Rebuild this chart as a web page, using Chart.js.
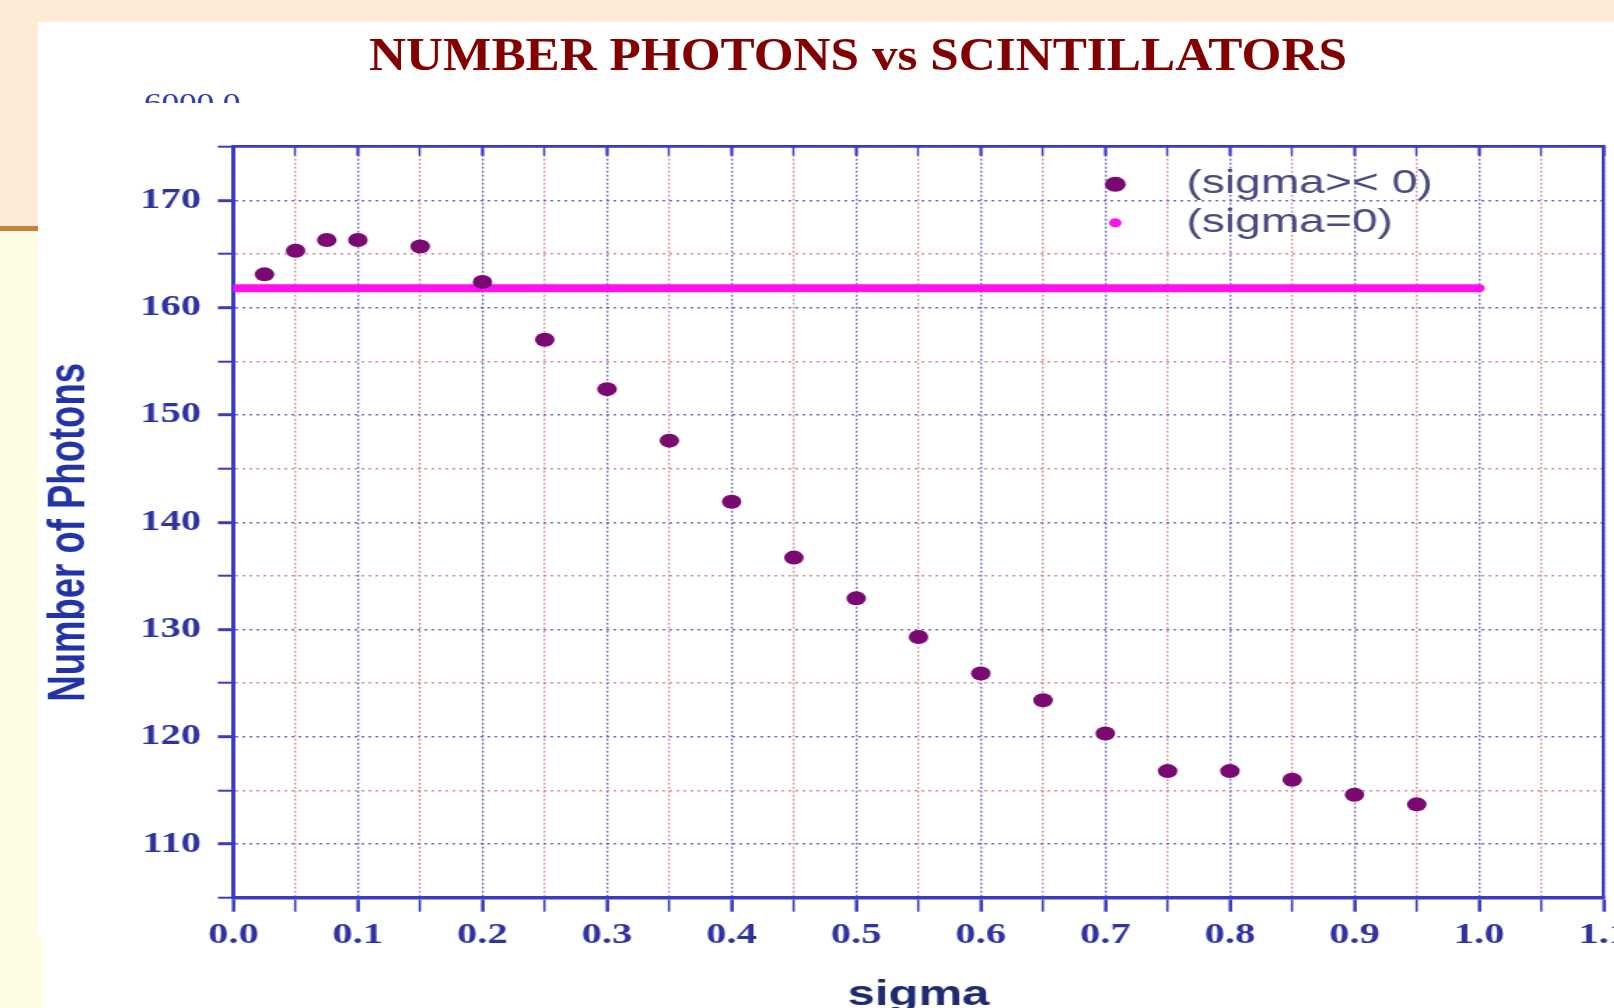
<!DOCTYPE html>
<html>
<head>
<meta charset="utf-8">
<script src="https://cdn.jsdelivr.net/npm/chart.js@4/dist/chart.umd.min.js"></script>
<style>
html, body { margin: 0; padding: 0; width: 1614px; height: 1008px; overflow: hidden; background: #fdebd8; }
#side { position: absolute; left: 0; top: 227px; width: 38px; height: 781px; background: #fffce6; }
#rule { position: absolute; left: 0; top: 226px; width: 38px; height: 5px; background: #c4843c; }
#foot { position: absolute; left: 0; top: 937px; width: 42px; height: 71px; background: #fffce6; }
#panel { position: absolute; left: 38px; top: 22px; right: 0; bottom: 0; background: #fff; }
#title { position: absolute; left: 358px; width: 1000px; top: 30px; text-align: center; white-space: nowrap;
         font: bold 47px/48px "Liberation Serif", "Times New Roman", serif; color: #820000;
         transform: scaleX(1.09); transform-origin: 50% 0; }
#ghost { position: absolute; left: 144px; top: 90px; height: 13px; overflow: hidden; white-space: nowrap;
         font: 25px/25px "Liberation Serif", serif; color: #2c3cb4; transform: scaleX(1.4); transform-origin: 0 0; }
#wrap { position: absolute; left: 38px; top: 22px; width: 1150px; height: 1010px;
        transform: scaleX(1.4); transform-origin: 0 0; }
</style>
</head>
<body>
<div id="panel"></div>
<div id="side"></div>
<div id="rule"></div>
<div id="foot"></div>
<div id="title">NUMBER PHOTONS vs SCINTILLATORS</div>
<div id="ghost">6000.0</div>
<div id="wrap"><canvas id="chart" width="1150" height="1010"></canvas></div>
<script>
"use strict";

// values
const sigmaVals = [0.025, 0.05, 0.075, 0.1, 0.15, 0.2, 0.25, 0.3, 0.35, 0.4, 0.45,
                   0.5, 0.55, 0.6, 0.65, 0.7, 0.75, 0.8, 0.85, 0.9, 0.95];
const photons = [163.1, 165.3, 166.3, 166.3, 165.7, 162.4, 157.0, 152.4, 147.6, 141.9, 136.7,
                 132.9, 129.3, 125.9, 123.4, 120.3, 116.8, 116.8, 116.0, 114.6, 113.7];
const flatSigma = [0.0, 1.0];
const flatPhotons = [161.8, 161.8];
const seriesLabels = ["(sigma>< 0)", "(sigma=0)"];
const xTitle = "sigma";
const yTitle = "Number of Photons  ";

const axisColor = "#3a3ac2";
const majorGrid = "rgba(80, 80, 175, 0.8)";
const minorGrid = "rgba(205, 120, 120, 0.8)";
const tickText = "#2f33a0";

const isMajorX = v => Math.round(v * 100) % 10 === 0;
const isMajorY = v => Math.round(v) % 10 === 0;

// legend drawn inside the plot, placed in data units
const legendDotX = 0.708;
const legendTextX = 0.765;
const legendRowY = [171.5, 167.9];
const legendDotR = [7.5, 4.5];

const insideLegend = {
    id: "insideLegend",
    afterDatasetsDraw(chart) {
        const ctx = chart.ctx;
        const xs = chart.scales.x;
        const ys = chart.scales.y;
        chart.data.datasets.forEach((ds, i) => {
            const cy = ys.getPixelForValue(legendRowY[i]);
            ctx.save();
            ctx.fillStyle = ds.legendColor;
            ctx.beginPath();
            ctx.arc(xs.getPixelForValue(legendDotX), cy, legendDotR[i], 0, Math.PI * 2);
            ctx.fill();
            ctx.fillStyle = "#4a4a82";
            ctx.font = '33px "Liberation Sans", Arial, sans-serif';
            ctx.textBaseline = "middle";
            ctx.textAlign = "left";
            ctx.fillText(ds.label, xs.getPixelForValue(legendTextX), cy);
            ctx.restore();
        });
    }
};

const serif = '"Liberation Serif", "Times New Roman", serif';
const sans = '"Liberation Sans", Arial, sans-serif';

new Chart(document.getElementById("chart").getContext("2d"), {
    type: "scatter",
    data: {
        datasets: [{
            label: seriesLabels[0],
            data: sigmaVals.map((s, i) => ({ x: s, y: photons[i] })),
            pointRadius: 7,
            pointBorderWidth: 0,
            pointBackgroundColor: "#7a0a72",
            legendColor: "#7a0a72"
        }, {
            label: seriesLabels[1],
            data: flatSigma.map((s, i) => ({ x: s, y: flatPhotons[i] })),
            showLine: true,
            pointRadius: 0,
            borderColor: "#ff10f0",
            borderWidth: 8,
            borderCapStyle: "round",
            legendColor: "#ff10f0"
        }]
    },
    options: {
        responsive: false,
        animation: false,
        devicePixelRatio: 1,
        layout: { padding: { top: 124.7, left: 0, right: 0, bottom: 0 } },
        plugins: { legend: { display: false }, tooltip: { enabled: false } },
        scales: {
            x: {
                type: "linear",
                position: "bottom",
                min: 0,
                max: 1.1,
                ticks: {
                    stepSize: 0.05,
                    autoSkip: false,
                    maxRotation: 0,
                    padding: 6,
                    color: tickText,
                    font: { family: serif, weight: "bold", size: 29 },
                    callback: v => isMajorX(v) ? v.toFixed(1) : ""
                },
                grid: {
                    color: c => c.tick && isMajorX(c.tick.value) ? majorGrid : minorGrid,
                    lineWidth: 1.4,
                    tickLength: 14,
                    tickColor: axisColor,
                    tickWidth: c => c.tick && isMajorX(c.tick.value) ? 2.5 : 1.6
                },
                border: { color: axisColor, width: 3.5, dash: [2, 2] },
                title: {
                    display: true,
                    text: xTitle,
                    color: "#1f2b70",
                    font: { family: sans, weight: "bold", size: 35 },
                    padding: { top: 0, bottom: 16 }
                },
                afterFit: s => { s.height = 134.3; }
            },
            x2: {
                type: "linear",
                position: "top",
                min: 0,
                max: 1.1,
                ticks: { stepSize: 0.05, display: false },
                grid: {
                    drawOnChartArea: false,
                    tickLength: -9,
                    tickColor: axisColor,
                    tickWidth: c => c.tick && isMajorX(c.tick.value) ? 2.2 : 1.4
                },
                border: { color: axisColor, width: 2.8 },
                afterFit: s => { s.height = 0; }
            },
            y: {
                type: "linear",
                position: "left",
                min: 105,
                max: 175,
                ticks: {
                    stepSize: 5,
                    autoSkip: false,
                    padding: 12,
                    color: tickText,
                    font: { family: serif, weight: "bold", size: 29 },
                    callback: v => isMajorY(v) ? String(v) : ""
                },
                grid: {
                    color: c => c.tick && isMajorY(c.tick.value) ? majorGrid : minorGrid,
                    lineWidth: 1.4,
                    tickLength: 11,
                    tickColor: axisColor,
                    tickWidth: c => c.tick && isMajorY(c.tick.value) ? 3 : 2
                },
                border: { color: axisColor, width: 3, dash: [2, 3] },
                title: {
                    display: true,
                    text: yTitle,
                    color: "#2233a8",
                    font: { family: sans, weight: "bold", size: 36.5 },
                    padding: { top: 1, bottom: 0 }
                },
                afterFit: s => { s.width = 139.5; }
            },
            y2: {
                type: "linear",
                position: "right",
                min: 105,
                max: 175,
                ticks: { stepSize: 5, display: false },
                grid: { display: false },
                border: { color: axisColor, width: 2.2 },
                afterFit: s => { s.width = 31.7; }
            }
        }
    },
    plugins: [insideLegend]
});
</script>
</body>
</html>
